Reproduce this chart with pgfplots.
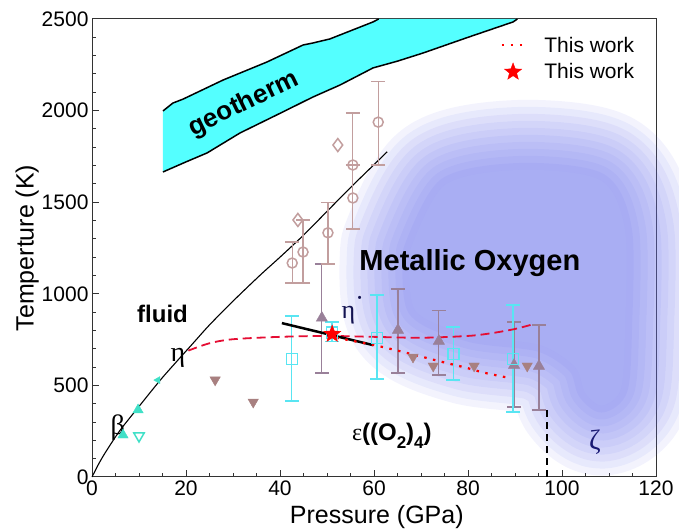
\documentclass[border=0pt]{standalone}
\usepackage{fontspec}
\setmainfont{Liberation Sans}
\newfontfamily\grk{Liberation Serif}
\usepackage{pgfplots}
\usepackage{pgfplotstable}
\pgfplotsset{compat=1.18}

\definecolor{geocyan}{rgb}{0.33,1,1}
\definecolor{blob}{rgb}{0.41,0.44,0.92}
\definecolor{blobcore}{rgb}{0.664,0.681,0.954}
\definecolor{sqcyan}{rgb}{0.35,0.9,0.95}
\definecolor{mauve}{rgb}{0.6,0.5,0.6}
\definecolor{dnbrown}{rgb}{0.66,0.5,0.5}
\definecolor{pinkbr}{rgb}{0.76,0.62,0.62}
\definecolor{tealb}{rgb}{0.25,0.88,0.78}
\definecolor{navy}{rgb}{0.1,0.1,0.45}
\definecolor{dashred}{rgb}{0.9,0.05,0.2}

% filled five point star
\pgfdeclareplotmark{fstar}{%
  \pgfpathmoveto{\pgfpointpolar{90}{\pgfplotmarksize}}%
  \pgfpathlineto{\pgfpointpolar{126}{0.42\pgfplotmarksize}}%
  \pgfpathlineto{\pgfpointpolar{162}{\pgfplotmarksize}}%
  \pgfpathlineto{\pgfpointpolar{198}{0.42\pgfplotmarksize}}%
  \pgfpathlineto{\pgfpointpolar{234}{\pgfplotmarksize}}%
  \pgfpathlineto{\pgfpointpolar{270}{0.42\pgfplotmarksize}}%
  \pgfpathlineto{\pgfpointpolar{306}{\pgfplotmarksize}}%
  \pgfpathlineto{\pgfpointpolar{342}{0.42\pgfplotmarksize}}%
  \pgfpathlineto{\pgfpointpolar{18}{\pgfplotmarksize}}%
  \pgfpathlineto{\pgfpointpolar{54}{0.42\pgfplotmarksize}}%
  \pgfpathclose\pgfusepathqfillstroke}

% outline of the metallic / zeta region (dense part)
\pgfplotstableread{
P T
67.7 1239
75.1 1594
91.1 1676
108.1 1621
113.4 1348
113.4 802
112.5 480
108.5 390
104.9 460
102.8 600
95.3 721
80.4 775
68.7 912
67.7 1239
}\blobtab

\pgfplotsset{
  haze/.style={blob,draw opacity=0.082,line width=#1,line join=round,smooth,forget plot},
  dotlegend/.style={legend image code/.code={\draw[##1] (0cm,0cm) -- (0.78cm,0cm); \path (1.38cm,0cm);}},
  starlegend/.style={legend image code/.code={\draw[##1] plot coordinates {(0.39cm,0cm)}; \path (0cm,0cm) (1.38cm,0cm);}},
}

\begin{document}
\begin{tikzpicture}
\path[use as bounding box] (-92pt,-52pt) rectangle (587pt,477pt);
\begin{axis}[
  scale only axis, width=564pt, height=458pt,
  xmin=0, xmax=120, ymin=0, ymax=2500, clip=false,
  xtick={0,20,...,120}, ytick={0,500,...,2500},
  minor x tick num=3, minor y tick num=4,
  xtick pos=left, ytick pos=left, tick align=inside,
  major tick length=7pt, minor tick length=4pt,
  axis line style={black!80,line width=1pt},
  tick style={black!80,line width=1pt},
  /pgf/number format/assume math mode=true,
  /pgf/number format/1000 sep={},
  tick label style={font=\fontsize{21}{21}\selectfont},
  xlabel={Pressure (GPa)}, ylabel={Temperture (K)},
  every axis x label/.style={at={(axis description cs:0.505,-0.087)},anchor=center,font=\fontsize{25}{25}\selectfont},
  every axis y label/.style={at={(axis description cs:-0.115,0.5)},anchor=center,rotate=90,font=\fontsize{25}{25}\selectfont},
  legend style={draw=none,fill=none,at={(rel axis cs:0.967,0.968)},anchor=north east,
    font=\fontsize{21}{21}\selectfont,inner sep=1pt,row sep=6pt},
  legend cell align=left,
]

% soft blue region: halo strokes, then the solid core
\pgfplotsinvokeforeach{140pt,126pt,112pt,98pt,84pt,70pt,56pt,42pt,28pt,14pt}{
\addplot[haze=#1] table[x=P,y=T] {\blobtab} -- cycle;
}
\addplot[draw=none,fill=blobcore,smooth,forget plot] table[x=P,y=T] {\blobtab} -- cycle;

% geotherm band
\addplot[draw=none,fill=geocyan,forget plot] coordinates {
 (15.1,1998) (17.2,2041) (19.4,2063) (27.9,2167) (37.2,2265) (44.9,2358) (47,2369) (50.6,2391) (59.8,2484) (61,2500)
 (90.5,2500) (89.6,2484) (80,2400) (70.4,2314) (65,2270) (59.8,2233) (52.8,2140) (47,2074) (40,1985) (31.5,1878) (24.5,1769) (20,1720) (15.1,1665)} -- cycle;
\addplot[black,line width=1.5pt,forget plot] coordinates {
 (15.1,1998) (17.2,2041) (19.4,2063) (27.9,2167) (37.2,2265) (44.9,2358) (47,2369) (50.6,2391) (59.8,2484) (61,2500)};
\addplot[black,line width=1.5pt,forget plot] coordinates {
 (15.1,1665) (20,1720) (24.5,1769) (31.5,1878) (40,1985) (47,2074) (52.8,2140) (59.8,2233) (65,2270) (70.4,2314) (80,2400) (89.6,2484) (90.5,2500)};

% melting curve
\addplot[black,line width=1.1pt,smooth,forget plot] coordinates {
 (0,0) (1.5,75) (3,140) (6,256) (10,385) (14.5,528) (18,630) (21.5,730) (25,830) (30,960)
 (35.7,1100) (40,1200) (45,1320) (50,1450) (55,1580) (60,1705) (62.8,1775)};

% epsilon / zeta boundary
\addplot[black,line width=1.5pt,dash pattern=on 7pt off 5pt,forget plot] coordinates {(96.8,0) (96.8,366)};

% beta points
\addplot[only marks,mark=triangle*,mark size=6pt,color=tealb,forget plot] coordinates {(9.8,366) (6.6,229)};
\addplot[only marks,mark=triangle,mark size=6pt,mark options={rotate=180,line width=1.5pt},color=tealb,forget plot] coordinates {(10,224)};
\addplot[only marks,mark=triangle*,mark size=4pt,mark options={rotate=-30},color=tealb,forget plot] coordinates {(14,529)};

% literature data
\addplot[only marks,mark=triangle*,mark size=6pt,color=dnbrown,mark options={rotate=180},forget plot] coordinates {
 (26.2,530) (34.3,409) (68.3,655) (72.6,606) (81.3,606) (92.6,606)};
\addplot[only marks,mark=triangle*,mark size=6.5pt,color=mauve,forget plot,
  error bars/.cd,y dir=both,y explicit,
  error bar style={line width=1.2pt,mauve},error mark options={rotate=90,mark size=7pt,line width=1.2pt,mauve}]
 table[x=x,y=y,y error plus=ep,y error minus=em] {
 x y ep em
 48.9 868 295 300
 65.1 802 224 234
 73.8 742 169 185
 89.8 611 235 229
 95.1 605 225 239
};
\addplot[only marks,mark=o,mark size=5pt,mark options={line width=1.5pt},color=pinkbr,forget plot,
  error bars/.cd,y dir=both,y explicit,
  error bar style={line width=1.2pt,pinkbr},error mark options={rotate=90,mark size=7pt,line width=1.2pt,pinkbr}]
 table[x=x,y=y,y error plus=ep,y error minus=em] {
 x y ep em
 42.6 1168 115 109
 44.9 1228 175 169
 50.2 1333 167 170
 55.5 1523 180 169
 55.5 1703 284 0
 60.9 1937 220 234
};
\addplot[only marks,mark=diamond,mark size=6.5pt,mark options={line width=1.5pt},color=pinkbr,forget plot] coordinates {(43.8,1403) (52.3,1812)};
\addplot[only marks,mark=square,mark size=5.5pt,mark options={line width=1.5pt},color=sqcyan,forget plot,
  error bars/.cd,y dir=both,y explicit,
  error bar style={line width=1.4pt,sqcyan},error mark options={rotate=90,mark size=7pt,line width=1.4pt,sqcyan}]
 table[x=x,y=y,y error plus=ep,y error minus=em] {
 x y ep em
 42.5 645 234 231
 51.1 790 56 50
 60.6 759 234 224
 76.9 671 148 141
 89.6 644 295 289
};

% this work
\addplot[dashred,line width=1.8pt,dash pattern=on 9pt off 5pt,smooth,forget plot] coordinates {
 (20.5,690) (25,730) (30,752) (40,765) (50,770) (60,765) (70,760) (80,770) (85,785) (90,808) (94,835)};
\addplot[black,line width=2.5pt,forget plot] coordinates {(40.4,840) (59.8,720)};
\addplot[red,line width=2.2pt,dash pattern=on 2.5pt off 6.5pt,smooth,dotlegend] coordinates {
 (52,760) (60,720) (65,690) (70.4,655) (75,625) (79.8,595) (83,572) (86.8,551) (89,540)};
\addlegendentry{This work}
\addplot[only marks,mark=fstar,mark size=9pt,red,starlegend] coordinates {(51.1,780)};
\addlegendentry{This work}

% labels
\node[font=\bfseries\fontsize{26}{26}\selectfont,rotate=26] at (axis cs:32.3,2035) {geotherm};
\node[font=\bfseries\fontsize{24}{24}\selectfont] at (axis cs:15,890) {fluid};
\node[font=\bfseries\fontsize{29}{29}\selectfont] at (axis cs:80.4,1168) {Metallic Oxygen};
\node[font=\grk\fontsize{28}{28}\selectfont] at (axis cs:18.3,650) {η};
\node[font=\grk\fontsize{28}{28}\selectfont] at (axis cs:5.5,270) {β};
\node[font=\grk\fontsize{26}{26}\selectfont,text=navy!70!black] at (axis cs:55.5,911) {η\raisebox{0.45em}{·}};
\node[font=\grk\fontsize{28}{28}\selectfont,text=navy] at (axis cs:107,191) {ζ};
\node[font=\fontsize{24}{24}\selectfont] at (axis cs:63.8,225)
 {{\grk ε}\textbf{((O\raisebox{-0.3em}{\fontsize{17}{17}\selectfont 2})\raisebox{-0.3em}{\fontsize{17}{17}\selectfont 4})}};
\end{axis}
\end{tikzpicture}
\end{document}
